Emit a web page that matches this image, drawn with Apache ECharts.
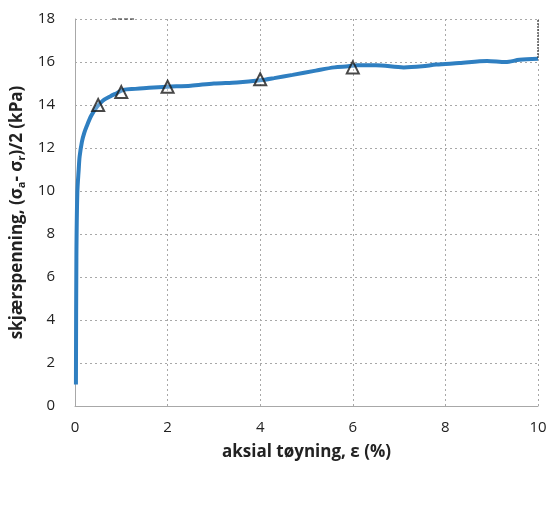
<!DOCTYPE html>
<html><head><meta charset="utf-8">
<script src="https://cdn.jsdelivr.net/npm/echarts@6/dist/echarts.min.js"></script>
<style>html,body{margin:0;padding:0;background:#fff}#c{width:556px;height:517px}</style>
</head><body><div id="c"></div>
<script>
var strainX = [0.02,0.03,0.05,0.08,0.1,0.15,0.2,0.25,0.35,0.47,0.6,0.76,0.9,1.04,1.3,1.6,2.0,2.5,3.0,3.5,4.0,4.3,4.7,5.2,5.6,5.9,6.1,6.5,7.1,7.5,7.8,8.3,8.9,9.3,9.6,10.0];
var stressY = [1.0,6.9,9.9,11.0,11.6,12.3,12.7,13.0,13.5,13.9,14.2,14.4,14.55,14.7,14.75,14.8,14.85,14.9,15.0,15.05,15.15,15.25,15.4,15.6,15.75,15.8,15.85,15.85,15.75,15.8,15.88,15.95,16.05,16.0,16.1,16.15];
var markX = [0.5,1.0,2.0,4.0,6.0];
var markY = [14.0,14.6,14.85,15.2,15.75];
var xTicks = [0,2,4,6,8,10];
var yTicks = [0,2,4,6,8,10,12,14,16,18];

var lineData = strainX.map(function(x,i){return [x,stressY[i]];});
var markData = markX.map(function(x,i){return [x,markY[i]];});
var chart = echarts.init(document.getElementById('c'));
var gridLine = {show:true,lineStyle:{color:'#a8a8a8',type:[2,3],width:1}};
chart.setOption({
  animation:false,
  grid:{left:75,right:18,top:19,bottom:111,show:false},
  xAxis:{type:'value',min:0,max:10,interval:2,
    axisLine:{show:true,onZero:false,lineStyle:{color:'#a8a8a8',width:1}},
    axisTick:{show:false},
    splitLine:gridLine,
    axisLabel:{color:'#222',fontSize:15,fontFamily:'Open Sans',margin:14,formatter:function(v){return xTicks.indexOf(v)>=0?String(v):'';}},
    name:'aksial tøyning, ε (%)',nameLocation:'middle',nameGap:38,
    nameTextStyle:{color:'#222',fontSize:17,fontWeight:'bold',fontFamily:'Open Sans'}
  },
  yAxis:{type:'value',min:0,max:18,interval:2,
    axisLine:{show:true,lineStyle:{color:'#a8a8a8',width:1}},
    axisTick:{show:false},
    splitLine:gridLine,
    axisLabel:{color:'#222',fontSize:15,fontFamily:'Open Sans',margin:20,formatter:function(v){return yTicks.indexOf(v)>=0?String(v):'';}},
    name:'{m|skjærspenning, (σ}{s|a}{m|- σ}{s|r}{m|)/2 (kPa)}',nameLocation:'middle',nameGap:43,
    nameTextStyle:{rich:{
      m:{color:'#222',fontSize:17,fontWeight:'bold',fontFamily:'Open Sans'},
      s:{color:'#222',fontSize:11,fontWeight:'bold',fontFamily:'Open Sans',padding:[8,0,0,0]}
    }}
  },
  series:[
    {type:'line',data:lineData,showSymbol:false,smooth:0.3,
      lineStyle:{color:'#2f7fc1',width:4},z:2},
    {type:'scatter',data:markData,symbol:'triangle',symbolSize:12,
      itemStyle:{color:'rgba(255,255,255,0.3)',borderColor:'#1a1a1a',borderWidth:2},z:3},
    {type:'line',data:[[0.8,18],[1.3,18]],showSymbol:false,silent:true,clip:false,
      lineStyle:{color:'#222',width:1,type:'dashed'},z:1},
    {type:'line',data:[[10,16.2],[10,18]],showSymbol:false,silent:true,clip:false,
      lineStyle:{color:'#222',width:1.5,type:'dotted'},z:4}
  ]
});
</script></body></html>
